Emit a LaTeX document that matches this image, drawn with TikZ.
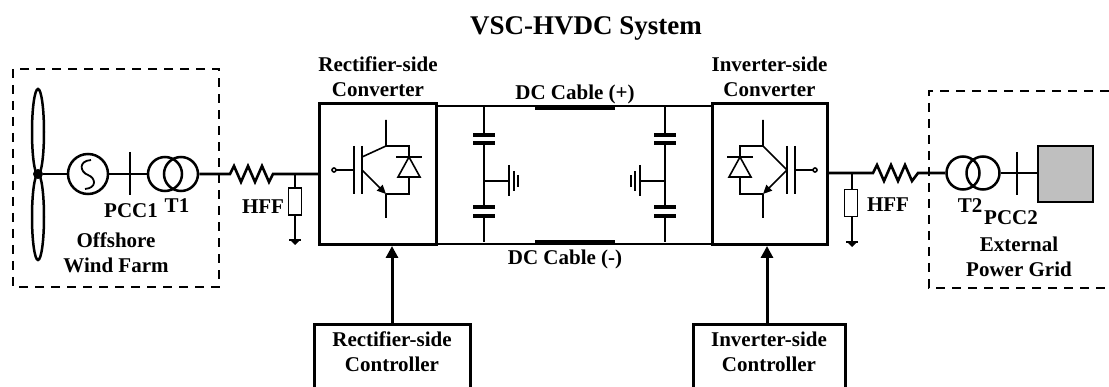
\documentclass[tikz,border=0pt]{standalone}
\usepackage{fontspec}
\setmainfont{Liberation Serif}
\usetikzlibrary{positioning, calc, arrows.meta}

\tikzset{
  lbl/.style={font=\bfseries\fontsize{21}{25}\selectfont, inner sep=0pt, outer sep=0pt},
  ttl/.style={font=\bfseries\fontsize{27}{32}\selectfont, inner sep=0pt},
  convbox/.style={draw, line width=3pt, minimum width=117pt, minimum height=141pt, inner sep=0pt},
  machine/.style={circle, draw, line width=2.5pt, minimum size=40pt, inner sep=0pt},
  trafo/.style={machine, minimum size=34pt},
  hffbox/.style={draw, line width=1.3pt, minimum width=13pt, minimum height=27pt, inner sep=0pt},
  hubdot/.style={circle, fill, minimum size=10pt, inner sep=0pt},
  acline/.style={line width=2.6pt},
  dcline/.style={line width=2pt},
  thinline/.style={line width=1.4pt},
  cableseg/.style={line width=5pt},
  capplate/.style={line width=3.5pt},
  areabox/.style={line width=1.5pt, dash pattern=on 9pt off 7pt},
  boxline/.style={line width=3pt},
  ctrlarrow/.style={line width=3pt, -{Triangle[length=12pt,width=12pt]}},
  igbtline/.style={line width=1.6pt},
}

\begin{document}
\begin{tikzpicture}[x=1pt, y=-1pt]
\useasboundingbox (0,0) rectangle (1109,387);

\node[ttl, anchor=base] (title) at (586,35) {VSC-HVDC System};

% converter stations
\node[convbox] (rconv) at (378,174) {};
\node[convbox, minimum width=115pt] (iconv) at (769.5,174) {};
\node[lbl, align=center, above=5pt of rconv] (rlbl) {Rectifier-side\\Converter};
\node[lbl, align=center, above=5pt of iconv] (ilbl) {Inverter-side\\Converter};

% IGBT with antiparallel diode (rectifier)
\begin{scope}[shift={(386,170)}, igbtline]
  \draw (-52,0) circle (2pt);
  \draw (-50,0) -- (-32,0);
  \draw (-32,-24) -- (-32,24);
  \draw (-24,-24) -- (-24,24);
  \draw (-24,-13) -- (0,-24) -- (0,-50);
  \draw[-{Triangle[length=9pt,width=8pt]}] (-24,0) -- (0,24);
  \draw (0,24) -- (0,48);
  \draw (0,-24) -- (23,-24) -- (23,-13);
  \draw (10,-13) -- (36,-13);
  \draw (23,-13) -- (12,7) -- (34,7) -- cycle;
  \draw (23,7) -- (23,24) -- (0,24);
\end{scope}

% IGBT with antiparallel diode (inverter)
\begin{scope}[shift={(763,170)}, xscale=-1, igbtline]
  \draw (-52,0) circle (2pt);
  \draw (-50,0) -- (-32,0);
  \draw (-32,-24) -- (-32,24);
  \draw (-24,-24) -- (-24,24);
  \draw (-24,0) -- (0,-24) -- (0,-50);
  \draw[-{Triangle[length=9pt,width=8pt]}] (-24,0) -- (0,24);
  \draw (0,24) -- (0,48);
  \draw (0,-24) -- (23,-24) -- (23,-13);
  \draw (10,-13) -- (36,-13);
  \draw (23,-13) -- (12,7) -- (34,7) -- cycle;
  \draw (23,7) -- (23,24) -- (0,24);
\end{scope}

% DC link
\coordinate (dcp) at ($(rconv.north east)+(0,4)$);
\coordinate (dcn) at ($(rconv.south east)+(0,-2)$);
\draw[dcline] (dcp) -- (dcp -| iconv.west);
\draw[dcline] (dcn) -- (dcn -| iconv.west);
\draw[cableseg] (535,107.5) -- (615,107.5);
\draw[cableseg] (535,242.5) -- (615,242.5);
\node[lbl, anchor=base] (dcplbl) at (575,100) {DC Cable (+)};
\node[lbl, anchor=base] (dcnlbl) at (565,265) {DC Cable (-)};

% DC capacitors with grounded midpoint
\foreach \cx/\gx/\gd in {484/509/1, 665/640/-1}{
  \draw[dcline] (\cx,107.5) -- (\cx,135) (\cx,143) -- (\cx,207) (\cx,216) -- (\cx,242.5);
  \draw[capplate] (\cx-11,135) -- (\cx+11,135) (\cx-11,143) -- (\cx+11,143);
  \draw[capplate] (\cx-11,207) -- (\cx+11,207) (\cx-11,216) -- (\cx+11,216);
  \draw[thinline] (\cx,181) -- (\gx,181);
  \draw[line width=2.5pt] (\gx,165) -- (\gx,196)
    (\gx+5*\gd,171) -- (\gx+5*\gd,191) (\gx+9*\gd,175) -- (\gx+9*\gd,187);
}

% offshore wind farm
\draw[areabox] (13,69) rectangle (219,287);
\draw[line width=2.5pt] (38,132) ellipse [x radius=6pt, y radius=43pt];
\draw[line width=2.5pt] (38,217) ellipse [x radius=6pt, y radius=43pt];
\node[hubdot] (hub) at (38,174) {};
\node[machine] (gen) at (88,174) {};
\draw[line width=1.8pt] (91,160) .. controls (78,161) and (80,172) .. (88,175)
  .. controls (96,178) and (97,188) .. (85,189);
\node[trafo] (t1a) at (165,174) {};
\node[trafo] (t1b) at (181,174) {};
\draw[acline] (hub) -- (gen);
\draw[acline] (gen) -- (t1a);
\draw[line width=2.5pt] (130,152) -- (130,195);
\node[lbl, anchor=base] (pcc1) at (131,218) {PCC1};
\node[lbl, anchor=base] (t1lbl) at (177,213) {T1};
\node[lbl, align=center, anchor=base] (wf) at (116,273) {Offshore\\Wind Farm};

% rectifier-side AC filter and line
\coordinate (tapl) at (295,174);
\draw[acline] (t1b.east) -- (230,174) -- ++(4,-8) -- ++(7,16) -- ++(7,-16) -- ++(7,16)
  -- ++(7,-16) -- ++(7,16) -- ++(4,-8) -- (rconv.west);
\node[hffbox] (hffl) at (295,201.5) {};
\draw[thinline] (tapl) -- (hffl.north);
\draw[thinline] (hffl.south) -- (295,240) coordinate (gndl);
\draw[line width=2pt] ($(gndl)+(-6,0)$) -- ($(gndl)+(6,0)$);
\fill ($(gndl)+(-4,1)$) -- ($(gndl)+(4,1)$) -- ($(gndl)+(0,5)$) -- cycle;
\node[lbl, anchor=base] (hfflbl1) at (263,214) {HFF};

% inverter-side AC filter and external grid
\node[trafo, minimum size=33pt] (t2a) at (963,173) {};
\node[trafo, minimum size=33pt] (t2b) at (983,173) {};
\node[draw, fill=black!25, line width=1.5pt, minimum width=55pt, minimum height=56pt] (grid) at (1065.5,174) {};
\coordinate (tapr) at (852,173);
\draw[acline] (iconv.east |- tapr) -- (873,173) -- ++(4,-8) -- ++(7,16) -- ++(7,-16) -- ++(7,16)
  -- ++(7,-16) -- ++(7,16) -- ++(6,-8) -- (t2a.west);
\draw[acline] (t2b.east) -- (grid.west |- t2b.east);
\draw[line width=2.5pt] (1017,152) -- (1017,195);
\node[hffbox] (hffr) at (851,203) {};
\draw[thinline] (tapr) -- (tapr |- hffr.north);
\draw[thinline] (tapr |- hffr.south) -- (852,242) coordinate (gndr);
\draw[line width=2pt] ($(gndr)+(-6,0)$) -- ($(gndr)+(6,0)$);
\fill ($(gndr)+(-4,1)$) -- ($(gndr)+(4,1)$) -- ($(gndr)+(0,5)$) -- cycle;
\node[lbl, anchor=base] (hfflbl2) at (888,212) {HFF};
\node[lbl, anchor=base] (t2lbl) at (970,213) {T2};
\node[lbl, anchor=base] (pcc2) at (1011,225) {PCC2};
\node[lbl, align=center, anchor=base] (eg) at (1019,277) {External\\Power Grid};
\draw[areabox] (1109,91) -- (929,91) -- (929,288) -- (1109,288);

% controllers
\node[lbl, align=center, anchor=north, inner ysep=7pt, minimum width=156pt] (rctrl) at (392,325) {Rectifier-side\\Controller};
\node[lbl, align=center, anchor=north, inner ysep=7pt, minimum width=152pt] (ictrl) at (769,325) {Inverter-side\\Controller};
\draw[boxline] ($(rctrl.north west)+(0,70)$) -- (rctrl.north west) -- (rctrl.north east) -- ++(0,70);
\draw[boxline] ($(ictrl.north west)+(0,70)$) -- (ictrl.north west) -- (ictrl.north east) -- ++(0,70);
\draw[ctrlarrow] (rctrl.north) -- (rctrl.north |- rconv.south);
\draw[ctrlarrow] ($(ictrl.north)+(-2,0)$) -- ($(ictrl.north |- iconv.south)+(-2,0)$);
\end{tikzpicture}
\end{document}
